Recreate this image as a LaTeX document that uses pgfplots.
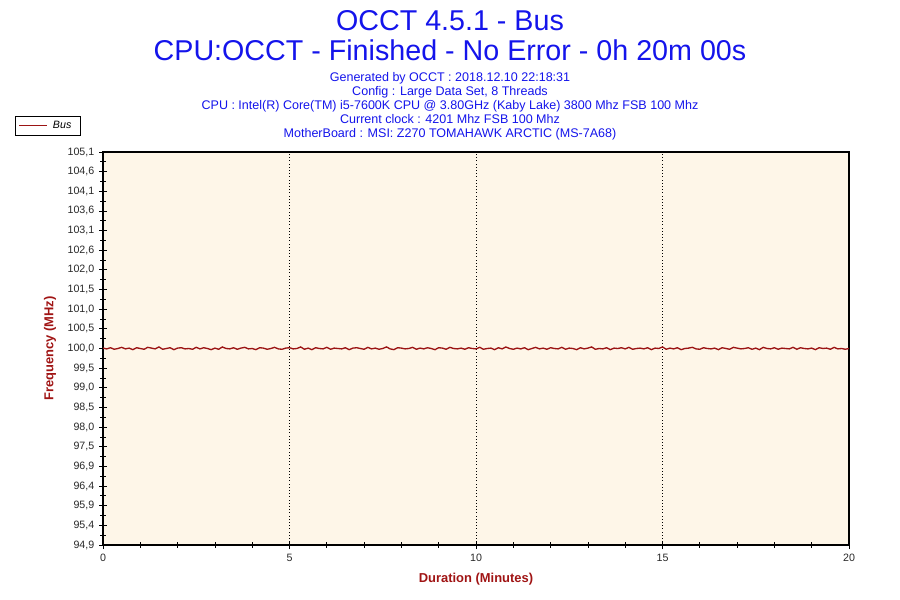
\documentclass[border=0pt]{standalone}
\usepackage{pgfplots}
\pgfplotsset{compat=1.18}
\usepackage{fontspec}
\setmainfont{Liberation Sans}
\definecolor{ttlblue}{RGB}{20,20,235}
\definecolor{lblred}{RGB}{160,20,20}
\definecolor{linered}{RGB}{155,20,20}
\definecolor{bgcream}{RGB}{254,246,232}
\definecolor{ticktxt}{RGB}{40,40,40}
\begin{document}
\begin{tikzpicture}
\path[use as bounding box] (0,0) rectangle (675pt,450pt);
\node[text=ttlblue, font=\fontsize{21.5}{24}\selectfont, anchor=base] at (337.5pt,426.75pt) {OCCT 4.5.1 - Bus};
\node[text=ttlblue, font=\fontsize{21.5}{24}\selectfont, anchor=base] at (337.5pt,404.25pt) {CPU:OCCT - Finished - No Error - 0h 20m 00s};
\node[text=ttlblue, font=\fontsize{9.4}{10}\selectfont, anchor=base] at (337.5pt,389pt) {Generated by OCCT : 2018.12.10 22:18:31};
\node[text=ttlblue, font=\fontsize{9.4}{10}\selectfont, anchor=base] at (337.5pt,378.5pt) {Config : Large Data Set, 8 Threads};
\node[text=ttlblue, font=\fontsize{9.4}{10}\selectfont, anchor=base] at (337.5pt,368pt) {CPU : Intel(R) Core(TM) i5-7600K CPU @ 3.80GHz (Kaby Lake) 3800 Mhz FSB 100 Mhz};
\node[text=ttlblue, font=\fontsize{9.4}{10}\selectfont, anchor=base] at (337.5pt,357.5pt) {Current clock : 4201 Mhz FSB 100 Mhz};
\node[text=ttlblue, font=\fontsize{9.4}{10}\selectfont, anchor=base] at (337.5pt,347pt) {MotherBoard : MSI: Z270 TOMAHAWK ARCTIC (MS-7A68)};
\begin{axis}[
  at={(77.25pt,41.25pt)}, anchor=south west,
  scale only axis, width=559.5pt, height=294.75pt,
  xmin=0, xmax=20, ymin=94.9, ymax=105.1,
  axis background/.style={fill=bgcream},
  axis line style={black, line width=0.8pt},
  tick pos=left, tick align=center,
  major tick length=6pt, minor tick length=4pt,
  every tick/.style={black, line width=0.6pt},
  xtick={0,5,10,15,20}, minor x tick num=4,
  ytick={94.9,95.41,95.92,96.43,96.94,97.45,97.96,98.47,98.98,99.49,100.0,100.51,101.02,101.53,102.04,102.55,103.06,103.57,104.08,104.59,105.1},
  yticklabels={{94,9},{95,4},{95,9},{96,4},{96,9},{97,5},{98,0},{98,5},{99,0},{99,5},{100,0},{100,5},{101,0},{101,5},{102,0},{102,6},{103,1},{103,6},{104,1},{104,6},{105,1}},
  minor y tick num=1,
  xmajorgrids, major grid style={black, dotted, line width=0.6pt},
  /pgf/number format/assume math mode=true,
  tick label style={font=\fontsize{8}{9}\selectfont, text=ticktxt},
  xlabel={Duration (Minutes)}, ylabel={Frequency (MHz)},
  every axis x label/.style={at={(axis description cs:0.5,-0.0865)}, anchor=center, font=\bfseries\fontsize{9.7}{11}\selectfont, text=lblred},
  every axis y label/.style={at={(axis description cs:-0.071,0.5)}, rotate=90, anchor=center, font=\bfseries\fontsize{9.7}{11}\selectfont, text=lblred},
  legend style={at={(axis description cs:-0.118,1.0916)}, anchor=north west, draw=black, fill=white, font=\itshape\fontsize{8}{9}\selectfont, inner xsep=2.5pt, inner ysep=1.5pt, row sep=0pt, nodes={inner xsep=4pt}},
  legend image code/.code={\draw[linered, line width=0.8pt] (0pt,0pt) -- (21pt,0pt);},
  legend cell align=left,
]
\addplot[linered, line width=1pt] coordinates {
(0.0,100.01)(0.1,99.99)(0.2,100.02)(0.3,99.98)(0.4,100.00)(0.5,100.03)(0.6,99.99)(0.7,100.01)(0.8,99.97)(0.9,100.02)
(1.0,100.00)(1.1,99.98)(1.2,100.03)(1.3,100.01)(1.4,99.99)(1.5,100.04)(1.6,99.98)(1.7,100.00)(1.8,100.02)(1.9,99.97)
(2.0,100.01)(2.1,100.02)(2.2,99.99)(2.3,100.00)(2.4,99.98)(2.5,100.03)(2.6,99.99)(2.7,100.02)(2.8,100.00)(2.9,99.97)
(3.0,100.01)(3.1,99.98)(3.2,100.04)(3.3,100.00)(3.4,99.99)(3.5,100.02)(3.6,99.98)(3.7,100.01)(3.8,100.03)(3.9,99.99)
(4.0,100.00)(4.1,99.97)(4.2,100.02)(4.3,100.01)(4.4,99.98)(4.5,100.00)(4.6,100.03)(4.7,99.99)(4.8,99.98)(4.9,100.01)
(5.0,100.02)(5.1,99.99)(5.2,100.00)(5.3,100.04)(5.4,99.98)(5.5,100.01)(5.6,99.97)(5.7,100.02)(5.8,100.00)(5.9,99.99)
(6.0,100.03)(6.1,99.98)(6.2,100.01)(6.3,100.00)(6.4,99.99)(6.5,100.02)(6.6,99.97)(6.7,100.01)(6.8,100.02)(6.9,100.00)
(7.0,99.98)(7.1,100.03)(7.2,99.99)(7.3,100.01)(7.4,99.98)(7.5,100.00)(7.6,100.04)(7.7,99.99)(7.8,99.97)(7.9,100.02)
(8.0,100.01)(8.1,99.99)(8.2,100.00)(8.3,100.03)(8.4,99.98)(8.5,100.01)(8.6,99.99)(8.7,100.02)(8.8,100.00)(8.9,99.97)
(9.0,100.02)(9.1,100.01)(9.2,99.98)(9.3,100.03)(9.4,100.00)(9.5,99.99)(9.6,100.01)(9.7,99.98)(9.8,100.02)(9.9,100.00)
(10.0,99.99)(10.1,100.03)(10.2,99.98)(10.3,100.00)(10.4,100.01)(10.5,99.97)(10.6,100.02)(10.7,99.99)(10.8,100.04)(10.9,100.00)
(11.0,99.98)(11.1,100.01)(11.2,99.99)(11.3,100.02)(11.4,99.97)(11.5,100.00)(11.6,100.03)(11.7,99.99)(11.8,100.01)(11.9,99.98)
(12.0,100.02)(12.1,100.00)(12.2,99.99)(12.3,100.03)(12.4,99.98)(12.5,100.01)(12.6,100.00)(12.7,99.97)(12.8,100.02)(12.9,99.99)
(13.0,100.01)(13.1,100.04)(13.2,99.98)(13.3,100.00)(13.4,99.99)(13.5,100.02)(13.6,99.97)(13.7,100.01)(13.8,100.00)(13.9,100.02)
(14.0,99.99)(14.1,100.03)(14.2,99.98)(14.3,100.00)(14.4,100.01)(14.5,99.99)(14.6,100.02)(14.7,99.97)(14.8,100.01)(14.9,100.00)
(15.0,100.04)(15.1,99.98)(15.2,100.01)(15.3,99.99)(15.4,100.02)(15.5,99.97)(15.6,100.00)(15.7,100.01)(15.8,100.03)(15.9,99.99)
(16.0,99.98)(16.1,100.02)(16.2,100.00)(16.3,99.99)(16.4,100.01)(16.5,99.97)(16.6,100.02)(16.7,100.00)(16.8,99.98)(16.9,100.03)
(17.0,100.01)(17.1,99.99)(17.2,100.00)(17.3,100.02)(17.4,99.98)(17.5,100.01)(17.6,99.97)(17.7,100.03)(17.8,100.00)(17.9,99.99)
(18.0,100.02)(18.1,99.98)(18.2,100.01)(18.3,100.00)(18.4,99.99)(18.5,100.03)(18.6,99.98)(18.7,100.02)(18.8,100.00)(18.9,99.99)
(19.0,100.01)(19.1,99.97)(19.2,100.02)(19.3,100.00)(19.4,100.01)(19.5,99.98)(19.6,100.03)(19.7,99.99)(19.8,100.00)(19.9,99.98)
(20.0,100.00)
};
\addlegendentry{Bus}
\end{axis}
\end{tikzpicture}
\end{document}
